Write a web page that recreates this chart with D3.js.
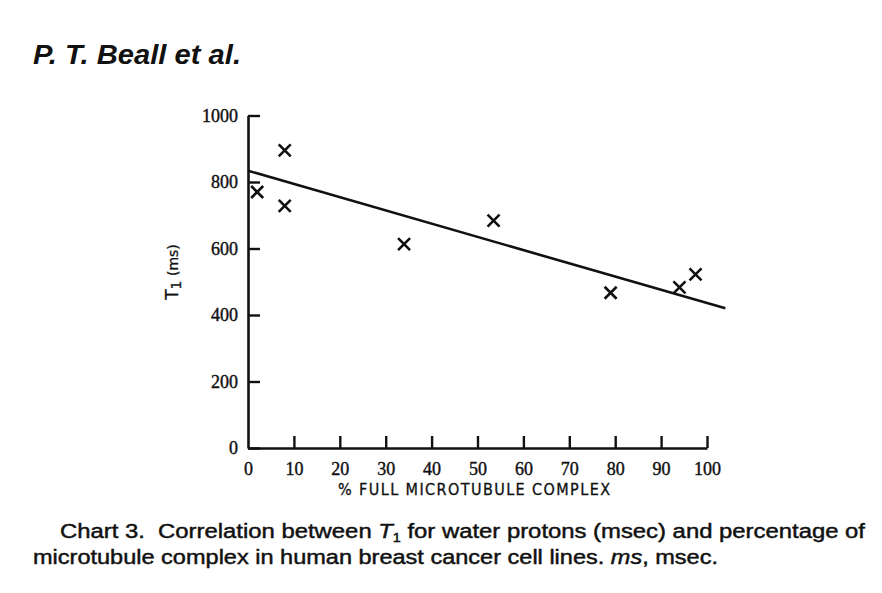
<!DOCTYPE html>
<html>
<head>
<meta charset="utf-8">
<script src="https://cdn.jsdelivr.net/npm/d3@7"></script>
<style>
  body { margin: 0; background: #fff; }
  svg { display: block; }
</style>
</head>
<body>
<div id="chart"></div>
<script>
// values
const pctFull = [2, 8, 8, 34, 53.5, 79, 94, 97.5];
const t1Ms = [770, 895, 728, 613, 684, 467, 483, 522];
// fitted regression line end points (x in %, y in ms)
const fitX = [0, 104];
const fitY = [834, 420];
const xTicks = [0, 10, 20, 30, 40, 50, 60, 70, 80, 90, 100];
const yTicks = [0, 200, 400, 600, 800, 1000];

const width = 882, height = 593;
const ink = '#111';

const svg = d3.select('#chart').append('svg')
    .attr('width', width)
    .attr('height', height);

// scales
const x = d3.scaleLinear().domain([0, 100]).range([248, 707]);
const y = d3.scaleLinear().domain([0, 1000]).range([448, 115.5]);

// title
svg.append('text')
    .attr('x', 33)
    .attr('y', 64)
    .attr('font-family', 'Liberation Sans, Arial, sans-serif')
    .attr('font-weight', 'bold')
    .attr('font-style', 'italic')
    .attr('font-size', 27)
    .attr('textLength', 208)
    .attr('lengthAdjust', 'spacingAndGlyphs')
    .attr('fill', ink)
    .text('P. T. Beall et al.');

// axes
const yAxis = d3.axisLeft(y)
    .tickValues(yTicks)
    .tickSizeInner(-12)
    .tickSizeOuter(0)
    .tickPadding(10)
    .tickFormat(d3.format('d'));

const xAxis = d3.axisBottom(x)
    .tickValues(xTicks)
    .tickSizeInner(-12)
    .tickSizeOuter(0)
    .tickPadding(14)
    .tickFormat(d3.format('d'));

const gy = svg.append('g')
    .attr('transform', `translate(${x(0)},0)`)
    .call(yAxis);

const gx = svg.append('g')
    .attr('transform', `translate(0,${y(0)})`)
    .call(xAxis);

[gx, gy].forEach(g => {
    g.select('.domain').attr('stroke', ink).attr('stroke-width', 2.6);
    g.selectAll('.tick line').attr('stroke', ink).attr('stroke-width', 2.4);
    g.selectAll('.tick text')
        .attr('fill', ink)
        .attr('stroke', ink)
        .attr('stroke-width', 0.4)
        .attr('font-family', 'Liberation Serif, Times New Roman, serif')
        .attr('font-size', 18);
});
gx.selectAll('.tick').filter(d => d === 0).select('line').remove();

// axis titles
svg.append('text')
    .attr('x', 474)
    .attr('y', 495)
    .attr('text-anchor', 'middle')
    .attr('font-family', 'Liberation Sans Narrow, DejaVu Sans Condensed, Liberation Sans, sans-serif')
    .attr('font-size', 16)
    .attr('textLength', 272)
    .attr('lengthAdjust', 'spacing')
    .attr('fill', ink)
    .attr('stroke', ink)
    .attr('stroke-width', 0.3)
    .text('% FULL MICROTUBULE COMPLEX');

const yTitle = svg.append('text')
    .attr('transform', 'translate(178,272) rotate(-90)')
    .attr('text-anchor', 'middle')
    .attr('font-family', 'DejaVu Sans, sans-serif')
    .attr('font-size', 14)
    .attr('fill', ink)
    .attr('stroke', ink)
    .attr('stroke-width', 0.3);
yTitle.append('tspan').attr('font-size', 17).text('T');
yTitle.append('tspan').attr('dy', 3).text('1');
yTitle.append('tspan').attr('dy', -3).text(' (ms)');

// regression line
svg.append('line')
    .attr('x1', x(fitX[0]))
    .attr('y1', y(fitY[0]))
    .attr('x2', x(fitX[1]))
    .attr('y2', y(fitY[1]))
    .attr('stroke', ink)
    .attr('stroke-width', 2.6);

// X markers
const points = pctFull.map((p, i) => ({ p: p, t: t1Ms[i] }));
const marks = svg.append('g').selectAll('g')
    .data(points)
    .join('g')
    .attr('transform', d => `translate(${x(d.p)},${y(d.t)})`);

const r = 6;
marks.append('path')
    .attr('d', `M${-r},${-r}L${r},${r}M${r},${-r}L${-r},${r}`)
    .attr('stroke', ink)
    .attr('stroke-width', 2.6)
    .attr('fill', 'none');

// caption
const capFont = {
    'font-family': 'Liberation Sans, Arial, sans-serif',
    'font-size': 20,
    'fill': ink,
    'stroke': ink,
    'stroke-width': 0.45,
    'lengthAdjust': 'spacingAndGlyphs'
};

const cap1 = svg.append('text')
    .attr('x', 60)
    .attr('y', 538)
    .attr('textLength', 805)
    .style('white-space', 'pre');
Object.entries(capFont).forEach(([k, v]) => cap1.attr(k, v));
cap1.append('tspan').text('Chart 3.  Correlation between ');
cap1.append('tspan').attr('font-style', 'italic').text('T');
cap1.append('tspan').attr('font-size', 12).attr('dy', 4).text('1');
cap1.append('tspan').attr('dy', -4).text(' for water protons (msec) and percentage of');

const cap2 = svg.append('text')
    .attr('x', 33)
    .attr('y', 564)
    .attr('textLength', 685);
Object.entries(capFont).forEach(([k, v]) => cap2.attr(k, v));
cap2.append('tspan').text('microtubule complex in human breast cancer cell lines. ');
cap2.append('tspan').attr('font-style', 'italic').text('ms');
cap2.append('tspan').text(', msec.');
</script>
</body>
</html>
